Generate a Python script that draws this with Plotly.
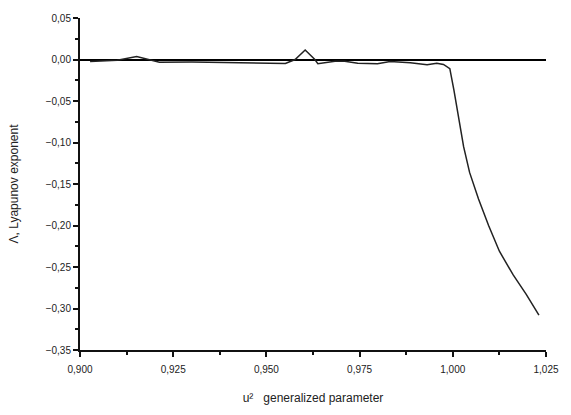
import plotly.graph_objects as go

# data
u2 = [0.9027, 0.9100, 0.9152, 0.9213, 0.9300, 0.9444, 0.9551, 0.9577, 0.9604,
      0.9630, 0.9638, 0.9684, 0.9710, 0.9745, 0.9798, 0.9832, 0.9886, 0.9931,
      0.9957, 0.9975, 0.9992, 1.0003, 1.0016, 1.0029, 1.0045, 1.0069, 1.0096,
      1.0125, 1.0162, 1.0197, 1.0231]
lyap = [-0.0024, -0.0010, 0.0036, -0.0032, -0.0030, -0.0036, -0.0048, 0.0000, 0.0115,
        0.0000, -0.0050, -0.0020, -0.0020, -0.0044, -0.0051, -0.0024, -0.0040, -0.0063,
        -0.0044, -0.0060, -0.0110, -0.0370, -0.0690, -0.1050, -0.1360, -0.1680, -0.2000,
        -0.2310, -0.2595, -0.2830, -0.3080]

x_ticks = [0.900, 0.925, 0.950, 0.975, 1.000, 1.025]
y_ticks = [0.05, 0.00, -0.05, -0.10, -0.15, -0.20, -0.25, -0.30, -0.35]

fig = go.Figure()
fig.add_trace(go.Scatter(x=u2, y=lyap, mode="lines",
                         line=dict(color="#222222", width=1.5),
                         showlegend=False))

font = dict(family="Liberation Sans, Arial, sans-serif", color="#222222")

fig.update_layout(
    width=571, height=415,
    margin=dict(l=80, r=20, t=16, b=62),
    paper_bgcolor="white", plot_bgcolor="white",
    separators=",.",
    font=dict(size=10, **font),
    xaxis=dict(
        range=[0.9, 1.025], tickvals=x_ticks, tickformat=".3f",
        showgrid=False, zeroline=False,
        showline=True, linecolor="#111111", linewidth=2,
        ticks="outside", ticklen=5, tickwidth=1.5, tickcolor="#111111",
        minor=dict(ticks="outside", ticklen=3, dtick=0.0125, tick0=0.9,
                   tickcolor="#111111", showgrid=False),
        tickfont=dict(size=10), ticklabelstandoff=4,
        title=dict(text="u²   generalized parameter", font=dict(size=12), standoff=20),
    ),
    yaxis=dict(
        range=[-0.35, 0.05], tickvals=y_ticks, tickformat=".2f",
        showgrid=False,
        zeroline=True, zerolinecolor="#000000", zerolinewidth=2,
        showline=True, linecolor="#111111", linewidth=2,
        ticks="outside", ticklen=5, tickwidth=1.5, tickcolor="#111111",
        minor=dict(ticks="outside", ticklen=3, dtick=0.025, tick0=0,
                   tickcolor="#111111", showgrid=False),
        tickfont=dict(size=10),
        title=dict(text="Λ, Lyapunov exponent", font=dict(size=12), standoff=24),
    ),
)

fig.write_html("out.html")
